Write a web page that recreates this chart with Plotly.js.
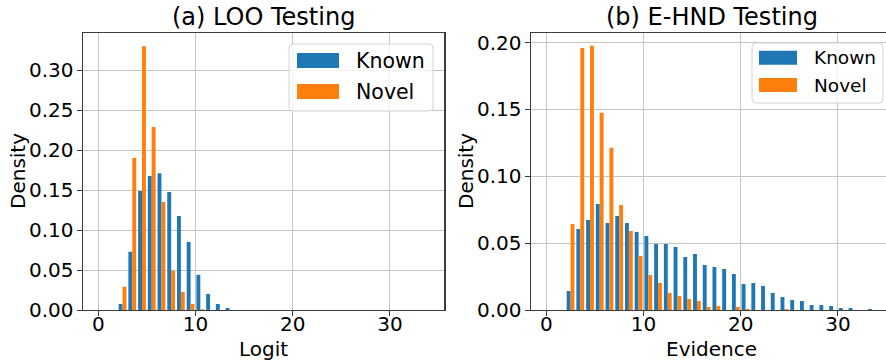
<!DOCTYPE html>
<html>
<head>
<meta charset="utf-8">
<script src="https://cdn.plot.ly/plotly-3.0.1.min.js"></script>
<style>html,body{margin:0;padding:0;background:#fff}#chart{width:886px;height:360px}</style>
</head>
<body>
<div id="chart"></div>
<script>
// ---- data (density per unit-width bin, bin centres) ----
const looBins = [2.5,3.5,4.5,5.5,6.5,7.5,8.5,9.5,10.5,11.5,12.5,13.5];
const looKnown = [0.0075,0.073,0.149,0.1675,0.171,0.1475,0.1175,0.085,0.044,0.02,0.0075,0.0025];
const looNovel = [0.029,0.19,0.330,0.229,0.135,0.049,0.0225,0.0075,0.001,0,0,0];

const ehndBins = [2.5,3.5,4.5,5.5,6.5,7.5,8.5,9.5,10.5,11.5,12.5,13.5,14.5,15.5,16.5,17.5,18.5,19.5,20.5,21.5,22.5,23.5,24.5,25.5,26.5,27.5,28.5,29.5,30.5,31.5,32.5,33.5];
const ehndKnown = [0.0142,0.0606,0.0674,0.0793,0.0651,0.0704,0.0651,0.0584,0.0554,0.0494,0.0494,0.0472,0.0397,0.0419,0.0337,0.0322,0.0307,0.0269,0.0195,0.0202,0.018,0.0127,0.0097,0.0075,0.0067,0.0037,0.0037,0.003,0.0015,0.0015,0,0.0007];
const ehndNovel = [0.0644,0.196,0.1976,0.1475,0.1213,0.0786,0.0591,0.0404,0.0262,0.0202,0.0127,0.0105,0.0082,0.0067,0.0022,0.003,0,0.0022,0.0007,0,0,0,0.0007,0,0,0,0,0,0,0,0,0];

const seriesNames = ["Known","Novel"];
const panelTitles = ["(a) LOO Testing","(b) E-HND Testing"];
const xTitles = ["Logit","Evidence"];
const yTitle = "Density";

// ---- styling / geometry ----
const W = 886, H = 360;
const blue = "#1f77b4", orange = "#ff7f0e";
const font = "DejaVu Sans";
const spine = "#3c3c3c", grid = "#c4c4c4";
const px = x => x / W, py = y => 1 - y / H;

const traces = [
  {type:"bar", x:looBins, y:looKnown, name:seriesNames[0], marker:{color:blue}, xaxis:"x", yaxis:"y", showlegend:false},
  {type:"bar", x:looBins, y:looNovel, name:seriesNames[1], marker:{color:orange}, xaxis:"x", yaxis:"y", showlegend:false},
  {type:"bar", x:ehndBins, y:ehndKnown, name:seriesNames[0], marker:{color:blue}, xaxis:"x2", yaxis:"y2", showlegend:false},
  {type:"bar", x:ehndBins, y:ehndNovel, name:seriesNames[1], marker:{color:orange}, xaxis:"x2", yaxis:"y2", showlegend:false}
];

const axBase = {
  showgrid:true, gridcolor:grid, gridwidth:1, zeroline:false,
  showline:true, linecolor:spine, linewidth:1.2,
  ticks:"outside", ticklen:5, tickwidth:1, tickcolor:spine,
  tickfont:{family:font, size:20, color:"#000"}, automargin:false
};
const yDom = [py(310), py(33)];

function rr(x0,y0,x1,y1,r){ // rounded rect in pixel coords -> paper path
  const X = v => px(v), Y = v => py(v);
  return `M ${X(x0+r)} ${Y(y0)} L ${X(x1-r)} ${Y(y0)} Q ${X(x1)} ${Y(y0)} ${X(x1)} ${Y(y0+r)} L ${X(x1)} ${Y(y1-r)} Q ${X(x1)} ${Y(y1)} ${X(x1-r)} ${Y(y1)} L ${X(x0+r)} ${Y(y1)} Q ${X(x0)} ${Y(y1)} ${X(x0)} ${Y(y1-r)} L ${X(x0)} ${Y(y0+r)} Q ${X(x0)} ${Y(y0)} ${X(x0+r)} ${Y(y0)} Z`;
}
function rect(x0,y0,x1,y1,c){
  return {type:"rect", xref:"paper", yref:"paper", x0:px(x0), x1:px(x1), y0:py(y1), y1:py(y0), fillcolor:c, line:{width:0}};
}
function txt(t,x,y,size,opts){
  return Object.assign({text:t, xref:"paper", yref:"paper", x:px(x), y:py(y), showarrow:false,
    font:{family:font, size:size, color:"#000"}, xanchor:"center", yanchor:"middle"}, opts||{});
}

const layout = {
  width:W, height:H, margin:{l:0,r:0,t:0,b:0},
  paper_bgcolor:"#fff", plot_bgcolor:"#fff",
  barmode:"group", bargap:0.2, bargroupgap:0,
  showlegend:false,
  xaxis:Object.assign({}, axBase, {domain:[px(82.7), px(444.3)], range:[-1.6,35.6], tickvals:[0,10,20,30], mirror:true, anchor:"y", ticklabelstandoff:-9}),
  yaxis:Object.assign({}, axBase, {domain:yDom, range:[0,0.3465], tickvals:[0,0.05,0.1,0.15,0.2,0.25,0.3], tickformat:".2f", mirror:true, anchor:"x", ticklabelstandoff:-1}),
  xaxis2:Object.assign({}, axBase, {domain:[px(530.7), 1], range:[-1.6,34.95], tickvals:[0,10,20,30], mirror:true, anchor:"y2", ticklabelstandoff:-9}),
  yaxis2:Object.assign({}, axBase, {domain:yDom, range:[0,0.2072], tickvals:[0,0.05,0.1,0.15,0.2], tickformat:".2f", mirror:false, anchor:"x2", ticklabelstandoff:-1}),
  shapes:[
    {type:"path", xref:"paper", yref:"paper", path:rr(289,44,433,111,4), fillcolor:"rgba(255,255,255,0.8)", line:{color:"#d4d4d4", width:1}},
    rect(297,53,339,68,blue), rect(297,84,339,99,orange),
    {type:"path", xref:"paper", yref:"paper", path:rr(752,43,883,103,4), fillcolor:"rgba(255,255,255,0.8)", line:{color:"#d4d4d4", width:1}},
    rect(759,50.7,797,64.7,blue), rect(759,78,797,92,orange)
  ],
  annotations:[
    txt(panelTitles[0], 263.5, 17, 24),
    txt(panelTitles[1], 711.7, 17, 24),
    txt(xTitles[0], 263.8, 349, 20),
    txt(xTitles[1], 711.2, 349, 20),
    txt(yTitle, 17.5, 171.5, 20, {textangle:-90}),
    txt(yTitle, 465.5, 171.5, 20, {textangle:-90}),
    txt(seriesNames[0], 354, 60.5, 20.5, {xanchor:"left"}),
    txt(seriesNames[1], 354, 91.5, 20.5, {xanchor:"left"}),
    txt(seriesNames[0], 811.5, 57.7, 18.5, {xanchor:"left"}),
    txt(seriesNames[1], 811.5, 85, 18.5, {xanchor:"left"})
  ]
};

Plotly.newPlot("chart", traces, layout, {displayModeBar:false, staticPlot:true});
</script>
</body>
</html>
